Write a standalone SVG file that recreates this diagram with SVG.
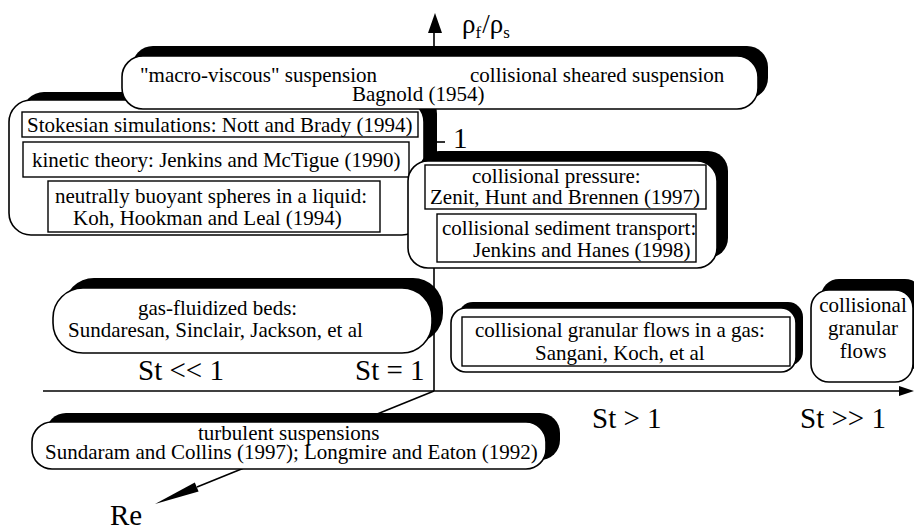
<svg xmlns="http://www.w3.org/2000/svg" width="914" height="531" viewBox="0 0 914 531">
<style>
.sh{fill:#000}
.box{fill:#fff;stroke:#000;stroke-width:1.6}
.in{fill:#fff;stroke:#000;stroke-width:1.4}
.ax{stroke:#000;stroke-width:1.6;fill:none}
text{font-family:"Liberation Serif","Times New Roman","DejaVu Serif",serif;font-size:21px;fill:#000}
.big{font-size:29px}
.mid{text-anchor:middle}
</style>
<rect width="914" height="531" fill="#fff"/>
<g id="connectors">
  <line class="ax" x1="434" y1="32" x2="434" y2="391"/>
  <polygon points="435,13 428,33 442,33" fill="#000"/>
  <line class="ax" x1="43" y1="391" x2="902" y2="391"/>
  <polygon points="914,391 899,386 899,396" fill="#000"/>
  <line class="ax" x1="434" y1="391" x2="197" y2="487"/>
  <polygon points="155,504 194.8,482.4 198.6,491.6" fill="#000"/>
  <line class="ax" x1="434" y1="142" x2="445" y2="142"/>
</g>
<g id="labels">
  <text x="462" y="33" style="font-size:27px">ρ<tspan style="font-size:17px" dy="5">f</tspan><tspan dy="-5" dx="1">/ρ</tspan><tspan style="font-size:17px" dy="5">s</tspan></text>
  <text class="big" x="453" y="148">1</text>
  <text class="big" x="138" y="380">St &lt;&lt; 1</text>
  <text class="big" x="355" y="380">St = 1</text>
  <text class="big" x="592" y="428">St &gt; 1</text>
  <text class="big" x="800" y="428">St &gt;&gt; 1</text>
  <text class="big" x="110" y="525">Re</text>
</g>
<g id="left-box">
  <rect class="sh" x="22" y="92" width="415" height="135" rx="22"/>
  <rect class="box" x="9" y="100" width="415" height="135" rx="22"/>
  <rect class="in" x="22" y="112" width="396" height="25"/>
  <text x="27" y="132">Stokesian simulations: Nott and Brady (1994)</text>
  <rect class="in" x="23" y="142" width="386" height="35"/>
  <text x="32" y="167">kinetic theory: Jenkins and McTigue (1990)</text>
  <rect class="in" x="48" y="181" width="332" height="51"/>
  <text x="55" y="203">neutrally buoyant spheres in a liquid:</text>
  <text x="73" y="225">Koh, Hookman and Leal (1994)</text>
</g>
<g id="top-box">
  <rect class="sh" x="132" y="46" width="636" height="53" rx="21"/>
  <rect class="box" x="122" y="56" width="636" height="53" rx="21"/>
  <text x="140" y="82">"macro-viscous" suspension</text>
  <text x="470" y="82">collisional sheared suspension</text>
  <text x="352" y="101">Bagnold (1954)</text>
</g>
<g id="collisional-pressure-box">
  <rect class="sh" x="419" y="151" width="309" height="107" rx="20"/>
  <rect class="box" x="408" y="161" width="309" height="107" rx="20"/>
  <rect class="in" x="425" y="165" width="281" height="44"/>
  <text x="472" y="183">collisional pressure:</text>
  <text x="430" y="204">Zenit, Hunt and Brennen (1997)</text>
  <rect class="in" x="437" y="214" width="259" height="48"/>
  <text x="442" y="235">collisional sediment transport:</text>
  <text x="473" y="257">Jenkins and Hanes (1998)</text>
</g>
<g id="gas-box">
  <rect class="sh" x="64" y="278" width="379" height="65" rx="30"/>
  <rect class="box" x="53" y="288" width="379" height="65" rx="30"/>
  <text x="138" y="315">gas-fluidized beds:</text>
  <text x="68" y="337">Sundaresan, Sinclair, Jackson, et al</text>
</g>
<g id="gas-granular-box">
  <rect class="sh" x="458" y="302" width="345" height="64" rx="15"/>
  <rect class="box" x="451" y="308" width="345" height="64" rx="15"/>
  <rect class="in" x="462" y="317" width="328" height="49"/>
  <text x="475" y="337">collisional granular flows in a gas:</text>
  <text x="535" y="360">Sangani, Koch, et al</text>
</g>
<g id="granular-box">
  <rect class="sh" x="821" y="279" width="102" height="92" rx="18"/>
  <rect class="box" x="811" y="290" width="102" height="92" rx="18"/>
  <text class="mid" x="863" y="312">collisional</text>
  <text class="mid" x="863" y="335">granular</text>
  <text class="mid" x="863" y="358">flows</text>
</g>
<g id="turbulent-box">
  <rect class="sh" x="46" y="413" width="514" height="47" rx="20"/>
  <rect class="box" x="32" y="422" width="514" height="47" rx="20"/>
  <text x="198" y="440">turbulent suspensions</text>
  <text x="45" y="459">Sundaram and Collins (1997); Longmire and Eaton (1992)</text>
</g>
</svg>
